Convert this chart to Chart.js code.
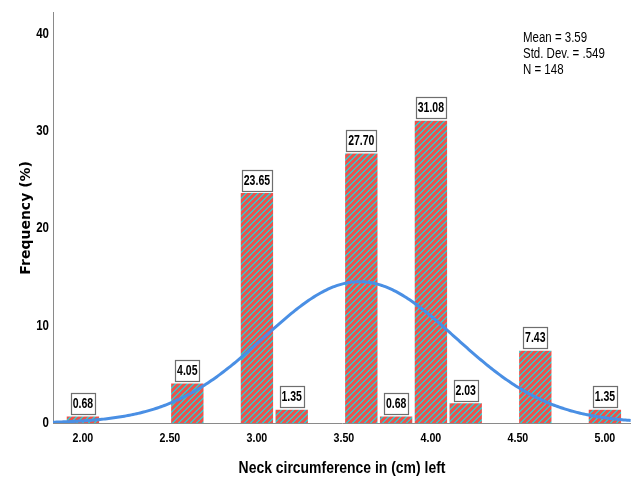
<!DOCTYPE html>
<html>
<head>
<meta charset="utf-8">
<script src="https://cdn.jsdelivr.net/npm/chart.js@4/dist/chart.umd.min.js"></script>
<style>
  html, body { margin: 0; padding: 0; background: #ffffff; }
  #wrap { width: 631px; height: 479px; }
</style>
</head>
<body>
<div id="wrap"><canvas id="histogram" width="631" height="479"></canvas></div>
<script>
// Histogram bins (centre of each 0.2 cm bin) and their percentages
const binCenters = [2.0, 2.6, 3.0, 3.2, 3.6, 3.8, 4.0, 4.2, 4.6, 5.0];
const percentages = [0.68, 4.05, 23.65, 1.35, 27.70, 0.68, 31.08, 2.03, 7.43, 1.35];
const binWidth = 0.2;

// Axis tick values
const xTickValues = [2.0, 2.5, 3.0, 3.5, 4.0, 4.5, 5.0];
const yTickValues = [0, 10, 20, 30, 40];

// Summary statistics shown in the corner; the fitted normal curve uses them
const meanValue = 3.59;
const sdValue = 0.549;
const sampleSize = 148;
const statLines = ['Mean = 3.59', 'Std. Dev. = .549', 'N = 148'];

const xMin = 1.828, xMax = 5.15;
const yMax = 42.19;

const SANS = '"Liberation Sans", Arial, sans-serif';
const SQUEEZE = 0.82; // horizontal compression giving a narrow face

// Normal density scaled to percent per bin
const normalCurve = [];
for (let x = xMin; x <= xMax + 1e-9; x += 0.01) {
  const z = (x - meanValue) / sdValue;
  const pdf = Math.exp(-0.5 * z * z) / (sdValue * Math.sqrt(2 * Math.PI));
  normalCurve.push({ x: x, y: 100 * binWidth * pdf });
}

// Red / teal diagonal hatch used to fill the bars (crisp pixel stripes)
function makeHatch() {
  const s = 6;
  const c = document.createElement('canvas');
  c.width = s; c.height = s;
  const g = c.getContext('2d');
  for (let i = 0; i < s; i++) {
    for (let j = 0; j < s; j++) {
      const k = (i + j) % s;
      g.fillStyle = (k === 0 || k === 1) ? '#3ec3c2' : '#e8544f';
      g.fillRect(i, j, 1, 1);
    }
  }
  return g.createPattern(c, 'repeat');
}

// Draw horizontal text in a condensed form (rotated text is left as is)
const narrowText = {
  id: 'narrowText',
  beforeInit(chart) {
    const ctx = chart.ctx;
    const orig = ctx.fillText;
    ctx.fillText = function (text, x, y, maxWidth) {
      const t = this.getTransform();
      if (t.b !== 0 || t.c !== 0) {
        return maxWidth === undefined ? orig.call(this, text, x, y) : orig.call(this, text, x, y, maxWidth);
      }
      const k = this.squeeze || SQUEEZE;
      this.save();
      this.translate(x, y);
      this.scale(k, 1);
      if (maxWidth === undefined) orig.call(this, text, 0, 0);
      else orig.call(this, text, 0, 0, maxWidth / k);
      this.restore();
    };
  }
};

// Value boxes above each bar
const valueBoxes = {
  id: 'valueBoxes',
  afterDatasetsDraw(chart) {
    const ctx = chart.ctx;
    const meta = chart.getDatasetMeta(0);
    const k = 0.75;
    ctx.save();
    ctx.squeeze = k;
    ctx.font = 'bold 14px ' + SANS;
    ctx.textAlign = 'center';
    ctx.textBaseline = 'middle';
    meta.data.forEach((bar, i) => {
      const txt = percentages[i].toFixed(2);
      const w = Math.round(ctx.measureText(txt).width * k + 4);
      const h = 21;
      const x = Math.round(bar.x - w / 2) + 0.5;
      const y = Math.round(bar.y - 2.5 - h) + 0.5;
      ctx.fillStyle = '#ffffff';
      ctx.fillRect(x, y, w, h);
      ctx.strokeStyle = '#6e6e6e';
      ctx.lineWidth = 1.2;
      ctx.strokeRect(x, y, w, h);
      ctx.fillStyle = '#000000';
      ctx.fillText(txt, bar.x, y + h / 2 + 0.5);
    });
    ctx.squeeze = 0;
    ctx.restore();
  }
};

// Statistics block in the upper right
const statsBlock = {
  id: 'statsBlock',
  afterDraw(chart) {
    const ctx = chart.ctx;
    ctx.save();
    ctx.font = '14px ' + SANS;
    ctx.fillStyle = '#000000';
    ctx.textAlign = 'left';
    ctx.textBaseline = 'middle';
    statLines.forEach((line, i) => ctx.fillText(line, 523, 38 + i * 16));
    ctx.restore();
  }
};

new Chart(document.getElementById('histogram'), {
  type: 'bar',
  data: {
    datasets: [
      {
        type: 'bar',
        label: 'Frequency',
        data: binCenters.map((x, i) => ({ x: x, y: percentages[i] })),
        backgroundColor: makeHatch(),
        borderWidth: 0,
        categoryPercentage: 1,
        barPercentage: 0.93,
        order: 2
      },
      {
        type: 'line',
        label: 'Normal',
        data: normalCurve,
        borderColor: '#4a8fe4',
        borderWidth: 3,
        pointRadius: 0,
        tension: 0,
        fill: false,
        order: 1
      }
    ]
  },
  options: {
    responsive: false,
    animation: false,
    events: [],
    layout: { padding: { top: 12.7, right: 0, left: 0, bottom: 0 } },
    plugins: {
      legend: { display: false },
      tooltip: { enabled: false }
    },
    scales: {
      x: {
        type: 'linear',
        min: xMin,
        max: xMax,
        offset: false,
        grid: { display: false, drawTicks: false },
        border: { display: true, color: '#8a8a8a', width: 1 },
        afterBuildTicks(scale) { scale.ticks = xTickValues.map(v => ({ value: v })); },
        afterFit(scale) { scale.height = 56; },
        ticks: {
          autoSkip: false,
          maxRotation: 0,
          padding: 8,
          color: '#000000',
          font: { family: SANS, size: 13, weight: 'bold' },
          callback: v => Number(v).toFixed(2)
        },
        title: {
          display: true,
          text: 'Neck circumference in (cm) left',
          color: '#000000',
          font: { family: SANS, size: 17, weight: 'bold' },
          padding: { top: 0, bottom: 0 }
        }
      },
      y: {
        type: 'linear',
        min: 0,
        max: yMax,
        grid: { display: false, drawTicks: false },
        border: { display: true, color: '#8a8a8a', width: 1 },
        afterBuildTicks(scale) { scale.ticks = yTickValues.map(v => ({ value: v })); },
        afterFit(scale) { scale.width = 53; },
        ticks: {
          padding: 4,
          color: '#000000',
          font: { family: SANS, size: 14, weight: 'bold' },
          callback: v => String(v)
        },
        title: {
          display: true,
          text: 'Frequency (%)',
          color: '#000000',
          font: { family: '"DejaVu Sans", sans-serif', size: 14, weight: 'bold' },
          padding: { top: 18, bottom: 0 }
        }
      }
    }
  },
  plugins: [narrowText, valueBoxes, statsBlock]
});
</script>
</body>
</html>
